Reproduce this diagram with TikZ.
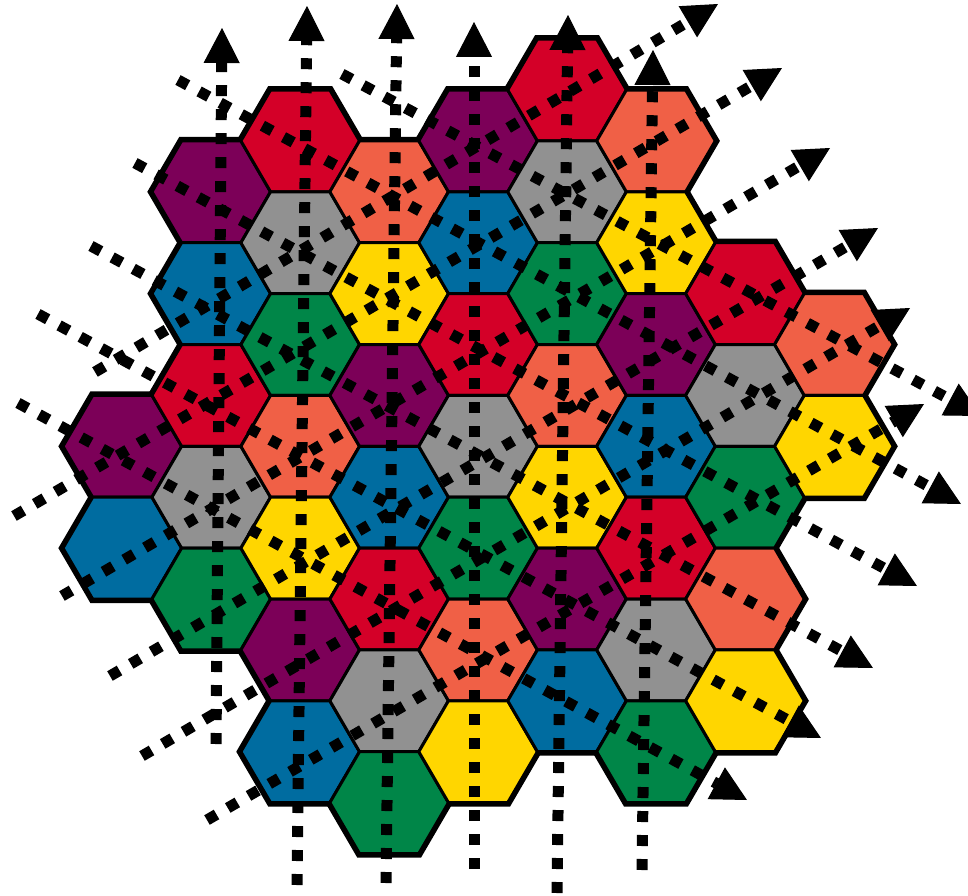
\documentclass[tikz,border=0pt]{standalone}
\usetikzlibrary{arrows.meta}
% seven cell colours, in reuse order
\definecolor{cell0}{RGB}{212,0,40}    % red
\definecolor{cell1}{RGB}{145,145,145} % gray
\definecolor{cell2}{RGB}{0,134,72}    % green
\definecolor{cell3}{RGB}{240,96,70}   % orange
\definecolor{cell4}{RGB}{255,214,0}   % yellow
\definecolor{cell5}{RGB}{124,0,88}    % purple
\definecolor{cell6}{RGB}{0,108,160}   % blue
\begin{document}
\begin{tikzpicture}[x=0.02cm, y=-0.02cm,
    hexcell/.pic={\path[pic actions] (59.3,0) -- (29.65,50.9) -- (-29.65,50.9) -- (-59.3,0) -- (-29.65,-50.9) -- (29.65,-50.9) -- cycle;},
    cellrim/.style={draw=black, line width=0.16cm},
    cellface/.style={draw=black, line width=0.06cm},
    ray/.style={line width=0.22cm, dash pattern=on 0.22cm off 0.26cm, -{Triangle[width=0.72cm, length=0.70cm, line width=0.02cm]}}]
  \useasboundingbox (0,0) rectangle (968,896);

  % 1. thick outer rim (drawn first, the fills cover the inner half)
  \foreach \q/\ka/\kb in {0/7/9, 1/2/10, 2/1/13, 3/2/14, 4/1/13, 5/0/12, 6/1/13, 7/4/12, 8/5/7}{
    \pgfmathtruncatemacro\kc{\ka+2}
    \foreach \k in {\ka,\kc,...,\kb}
      \pic[cellrim] at ({122.3+88.95*\q},{90+50.9*\k}) {hexcell};
  }

  % 2. coloured cells (7-colour reuse pattern)
  \foreach \q/\ka/\kb in {0/7/9, 1/2/10, 2/1/13, 3/2/14, 4/1/13, 5/0/12, 6/1/13, 7/4/12, 8/5/7}{
    \pgfmathtruncatemacro\kc{\ka+2}
    \foreach \k in {\ka,\kc,...,\kb}{
      \pgfmathtruncatemacro\ci{mod((\k+3+5*\q)/2,7)}
      \pic[cellface, fill=cell\ci] at ({122.3+88.95*\q},{90+50.9*\k}) {hexcell};
    }
  }

  % 3. dotted rays: vertical, up-right, down-right
  \foreach \n/\xa/\ya/\xb/\yb in {
      v1/216/744/222/28, v2/297/885/307/6, v3/386/883/397/4,
      v4/474/869/474/22, v5/557/893/568/15, v6/642/870/653/50,
      u1/95/372/718/4, u2/14/516/782/68, u3/62/596/830/148,
      u4/110/676/878/228, u5/142/756/910/308, u6/207/820/924/404,
      w1/342/74/981/416, w2/178/80/961/504, w3/135/163/917/586,
      w4/91/246/873/668, w5/38/314/821/738, w6/18/403/747/800}{
    \coordinate (\n-tail) at (\xa,\ya);
    \coordinate (\n-tip) at (\xb,\yb);
    \draw[ray] (\n-tail) -- (\n-tip);
  }
\end{tikzpicture}
\end{document}
